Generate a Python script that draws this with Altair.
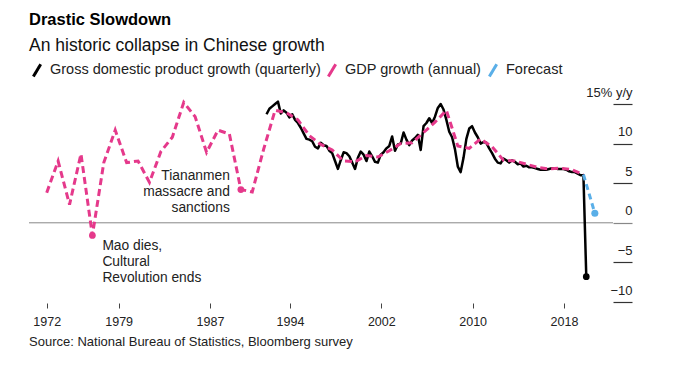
import altair as alt
import pandas as pd

FONT = "Liberation Sans"

# ---------------- data ----------------
annual_years = list(range(1972, 2020))
annual_growth = [3.8, 7.8, 2.3, 8.7, -1.6, 7.6, 11.7, 7.6, 7.8, 5.1,
                 9.0, 10.8, 15.2, 13.4, 8.9, 11.7, 11.2, 4.2, 3.9, 9.3,
                 14.2, 13.9, 13.0, 11.0, 9.9, 9.2, 7.8, 7.7, 8.5, 8.3,
                 9.1, 10.0, 10.1, 11.4, 12.7, 14.2, 9.7, 9.4, 10.6, 9.6,
                 7.9, 7.8, 7.4, 7.0, 6.8, 6.9, 6.7, 6.1]

quarterly_start_year = 1992
quarterly_growth = [
    13.7, 14.4, 14.7, 15.0,   # 1992
    15.3, 13.8, 14.2, 13.9,   # 1993
    13.3, 13.7, 13.0, 12.6,   # 1994
    12.0, 11.3, 10.6, 10.5,   # 1995
    10.3, 9.6, 9.4, 10.1,     # 1996
    9.8, 9.7, 9.1, 8.8,       # 1997
    7.8, 6.8, 7.9, 8.9,       # 1998
    8.8, 8.4, 7.6, 6.8,       # 1999
    8.2, 9.0, 8.6, 7.8,       # 2000
    9.0, 8.4, 7.7, 7.6,       # 2001
    8.6, 8.9, 9.4, 9.7,       # 2002
    10.9, 9.1, 9.9, 10.0,     # 2003
    11.4, 10.5, 9.8, 10.4,    # 2004
    10.7, 11.1, 9.2, 12.2,    # 2005
    12.6, 13.2, 12.6, 13.4,   # 2006
    14.5, 15.0, 14.3, 13.0,   # 2007
    11.5, 10.8, 9.3, 7.1,     # 2008
    6.4, 8.2, 10.6, 11.9,     # 2009
    12.2, 11.4, 10.8, 10.0,   # 2010
    10.2, 10.1, 9.4, 8.8,     # 2011
    8.1, 7.6, 7.5, 8.1,       # 2012
    7.9, 7.6, 7.9, 7.7,       # 2013
    7.4, 7.5, 7.1, 7.2,       # 2014
    7.0, 7.0, 6.9, 6.8,       # 2015
    6.7, 6.7, 6.7, 6.8,       # 2016
    6.9, 6.9, 6.8, 6.8,       # 2017
    6.8, 6.7, 6.5, 6.4,       # 2018
    6.4, 6.2, 6.0, 6.0,       # 2019
    -6.8,                     # 2020 Q1
]

forecast_years = [2019, 2020]
forecast_growth = [6.1, 1.2]

ann_years = [1976, 1989]
ann_values = [-1.6, 4.2]
ann_texts = ["Mao dies,\nCultural\nRevolution ends",
             "Tiananmen\nmassacre and\nsanctions"]

axis_years = [1972, 1979, 1987, 1994, 2002, 2010, 2018]
y_ticks = [-10, -5, 0, 5, 10, 15]

series_names = ["Gross domestic product growth (quarterly)",
                "GDP growth (annual)", "Forecast"]
series_colors = ["#000000", "#e5398b", "#5aafe8"]

source_note = "Source: National Bureau of Statistics, Bloomberg survey"

# ---------------- tables ----------------
# annual values are placed at year end, quarterly values at quarter end
df_a = pd.DataFrame({"t": [y + 1.0 for y in annual_years],
                     "v": annual_growth, "series": series_names[1]})
q_t = [quarterly_start_year + (i + 1) * 0.25 for i in range(len(quarterly_growth))]
df_q = pd.DataFrame({"t": q_t, "v": quarterly_growth, "series": series_names[0]})
df_f = pd.DataFrame({"t": [y + 1.0 for y in forecast_years],
                     "v": forecast_growth, "series": series_names[2]})
df_ann = pd.DataFrame({"t": [y + 1.0 for y in ann_years], "v": ann_values,
                       "label": ann_texts})
df_zero = pd.DataFrame({"v": [0]})
df_src = pd.DataFrame({"s": [source_note]})

tick_pos = [axis_years[0] + 1.0] + [y + 0.3 for y in axis_years[1:]]

xs = alt.Scale(domain=[1971.45, 2022.59], nice=False, zero=False)
ys = alt.Scale(domain=[-10, 15], nice=False, zero=False)

x_axis = alt.Axis(values=tick_pos, labelExpr="'' + floor(datum.value - 0.3)",
                  title=None, domain=False, grid=False, ticks=True,
                  tickSize=5, tickColor="#444", tickWidth=1, offset=1,
                  labelFont=FONT, labelFontSize=12.5, labelColor="#222",
                  labelPadding=7, labelFlush=False, labelOverlap=False)
y_axis = alt.Axis(orient="right", values=y_ticks,
                  labelExpr="datum.value == 15 ? '15% y/y' : datum.label",
                  title=None, domain=False, grid=False,
                  tickSize=19, tickWidth=1.2,
                  tickColor={"expr": "datum.value == 0 ? '#888888' : '#333333'"},
                  labelAlign="right", labelBaseline="alphabetic",
                  labelPadding=0, labelOffset=-8,
                  labelFont=FONT, labelFontSize=13, labelColor="#222",
                  labelFlush=False, labelOverlap=False)


def X():
    return alt.X("t:Q", scale=xs, axis=x_axis)


def Y():
    return alt.Y("v:Q", scale=ys, axis=y_axis)


color_scale = alt.Scale(domain=series_names, range=series_colors)
legend = alt.Legend(orient="none", legendX=0, legendY=-42, direction="horizontal",
                    columns=3, title=None, padding=0,
                    symbolType="M-0.6,1L0.6,-1", symbolSize=150,
                    symbolStrokeWidth=3, symbolDash=[1, 0],
                    labelFont=FONT, labelFontSize=14.5, labelColor="#222",
                    labelOffset=5, columnPadding=1, labelLimit=400)

zero = alt.Chart(df_zero).mark_rule(color="#888888", strokeWidth=1).encode(
    y=Y())

quarterly = alt.Chart(df_q).mark_line(strokeWidth=2.5, strokeJoin="round").encode(
    x=X(), y=Y(), color=alt.Color("series:N", scale=color_scale, legend=legend))

annual = alt.Chart(df_a).mark_line(strokeWidth=3, strokeDash=[7, 4]).encode(
    x=X(), y=Y(), color=alt.Color("series:N", scale=color_scale, legend=legend))

forecast = alt.Chart(df_f).mark_line(strokeWidth=3, strokeDash=[6, 4]).encode(
    x=X(), y=Y(), color=alt.Color("series:N", scale=color_scale, legend=legend))

ann_dots = alt.Chart(df_ann).mark_point(filled=True, size=45, opacity=1,
                                        color=series_colors[1]).encode(x=X(), y=Y())
q_end = alt.Chart(df_q.tail(1)).mark_point(filled=True, size=45, opacity=1,
                                           color=series_colors[0]).encode(x=X(), y=Y())
f_end = alt.Chart(df_f.tail(1)).mark_point(filled=True, size=50, opacity=1,
                                           color=series_colors[2]).encode(x=X(), y=Y())

mao_text = alt.Chart(df_ann.head(1)).mark_text(
    align="left", baseline="alphabetic", lineBreak="\n", lineHeight=16,
    dx=10, dy=15, font=FONT, fontSize=13.8, color="#222").encode(
    x=X(), y=Y(), text="label:N")
tian_text = alt.Chart(df_ann.tail(1)).mark_text(
    align="right", baseline="alphabetic", lineBreak="\n", lineHeight=16,
    dx=-11, dy=-10, font=FONT, fontSize=13.8, color="#222").encode(
    x=X(), y=Y(), text="label:N")

source = alt.Chart(df_src).mark_text(
    align="left", baseline="alphabetic", font=FONT, fontSize=13, color="#222").encode(
    x=alt.value(0), y=alt.value(241.5), text="s:N")

chart = alt.layer(zero, quarterly, annual, forecast, ann_dots, q_end, f_end,
                  mao_text, tian_text, source).properties(
    width=584, height=198,
    padding={"left": 21, "top": 96, "right": 65, "bottom": 56},
    autosize=alt.AutoSizeParams(type="none"),
    title=alt.TitleParams(
        text="Drastic Slowdown", subtitle="An historic collapse in Chinese growth",
        anchor="start", frame="group", font=FONT, fontSize=16.5, fontWeight="bold",
        color="#000", subtitleFont=FONT, subtitleFontSize=17.5,
        subtitleColor="#111", subtitlePadding=8, offset=8),
).configure_view(stroke=None)

chart.save("out.html", embed_options={"renderer": "svg", "actions": False})
